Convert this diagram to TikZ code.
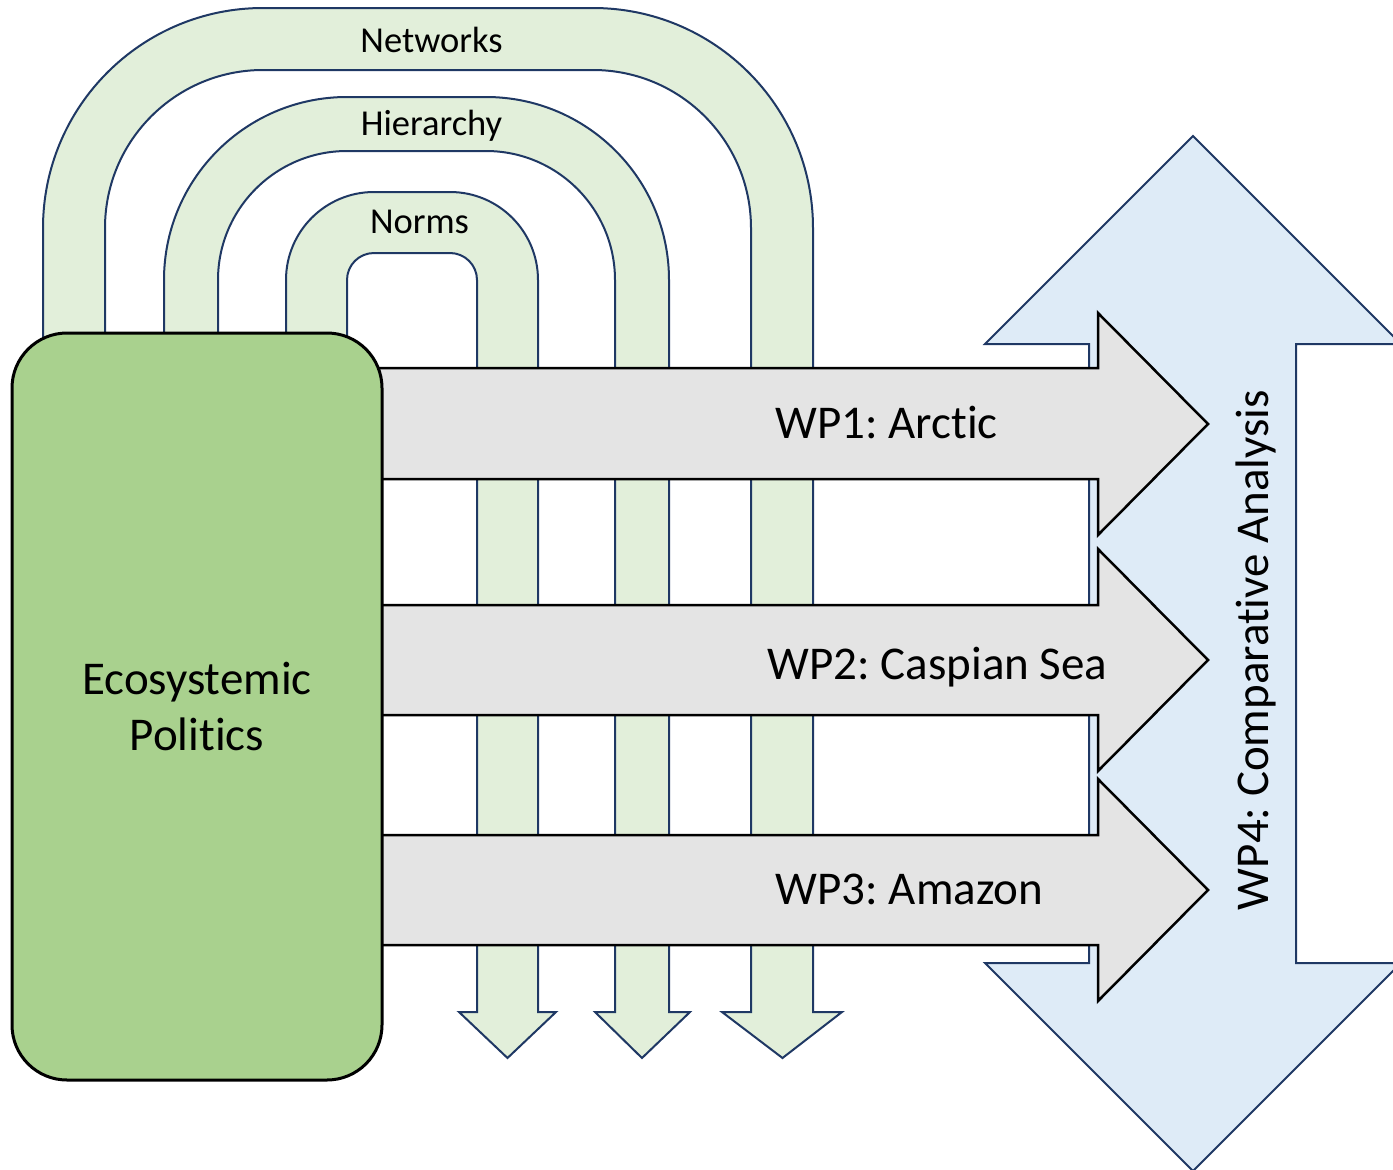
\documentclass[tikz,border=0pt]{standalone}
\usepackage{fontspec}
\setmainfont{Carlito}[Ligatures={NoCommon}]
\definecolor{bandfill}{HTML}{E2EFDA}
\definecolor{navy}{HTML}{1F3864}
\definecolor{boxgreen}{HTML}{A9D18E}
\definecolor{wpgray}{HTML}{E4E4E4}
\definecolor{wpblue}{HTML}{DEEBF7}
\frenchspacing
\begin{document}
\begin{tikzpicture}[x=1pt,y=-1pt,
  band/.style={fill=bandfill,draw=navy,line width=2pt},
  wparrow/.style={fill=wpgray,draw=black,line width=2.5pt},
  wpfour/.style={fill=wpblue,draw=navy,line width=2pt},
  ecobox/.style={fill=boxgreen,draw=black,line width=3pt,rounded corners=55pt,
    minimum width=370pt,minimum height=747pt,inner sep=0pt,align=center,
    font=\fontsize{47}{56}\selectfont},
  bandlabel/.style={anchor=base,inner sep=0pt,font=\fontsize{36.5}{44}\selectfont},
  wplabel/.style={anchor=base,inner sep=0pt,font=\fontsize{47}{56}\selectfont}]
\useasboundingbox (0,0) rectangle (1393,1170);
\clip (0,0) rectangle (1393,1170);
% WP4 double arrow
\draw[wpfour] (1193,136) -- (1401,344) -- (1296,344) -- (1296,963) -- (1401,963)
  -- (1193,1171) -- (985,963) -- (1089,963) -- (1089,344) -- (985,344) -- cycle;
% Networks band
\draw[band] (43,360) -- (43,228) arc[start angle=180,end angle=270,radius=220]
  -- (593,8) arc[start angle=270,end angle=360,radius=220]
  -- (813,1012) -- (842,1012) -- (782.5,1058) -- (722,1012) -- (751,1012)
  -- (751,228) arc[start angle=0,end angle=-90,radius=158]
  -- (263,70) arc[start angle=270,end angle=180,radius=158]
  -- (105,360) -- cycle;
% Hierarchy band
\draw[band] (164,360) -- (164,280) arc[start angle=180,end angle=270,radius=183]
  -- (486,97) arc[start angle=270,end angle=360,radius=183]
  -- (669,1012) -- (690,1012) -- (642,1058) -- (595,1012) -- (615,1012)
  -- (615,280) arc[start angle=0,end angle=-90,radius=129]
  -- (347,151) arc[start angle=270,end angle=180,radius=129]
  -- (218,360) -- cycle;
% Norms band
\draw[band] (286,360) -- (286,280) arc[start angle=180,end angle=270,radius=88]
  -- (450,192) arc[start angle=270,end angle=360,radius=88]
  -- (538,1012) -- (556,1012) -- (507.5,1058) -- (459,1012) -- (477,1012)
  -- (477,280) arc[start angle=0,end angle=-90,radius=27]
  -- (374,253) arc[start angle=270,end angle=180,radius=27]
  -- (347,360) -- cycle;
% WP arrows
\draw[wparrow] (360,368) -- (1098,368) -- (1098,313) -- (1208,424) -- (1098,535) -- (1098,479) -- (360,479) -- cycle;
\draw[wparrow] (360,605) -- (1098,605) -- (1098,549) -- (1208,660) -- (1098,771) -- (1098,715) -- (360,715) -- cycle;
\draw[wparrow] (360,835) -- (1098,835) -- (1098,779) -- (1208,890) -- (1098,1001) -- (1098,945) -- (360,945) -- cycle;
% Ecosystemic Politics box
\node[ecobox] (eco) at (197,706.5) {Ecosystemic\\Politics};
% labels
\node[bandlabel] (networks) at (431.5,52) {Networks};
\node[bandlabel] (hierarchy) at (431.5,135) {Hierarchy};
\node[bandlabel] (norms) at (419.5,233) {Norms};
\node[wplabel] (wp1) at (886.5,438) {WP1: Arctic};
\node[wplabel] (wp2) at (937.5,679) {WP2: Caspian Sea};
\node[wplabel] (wp3) at (909.5,904) {WP3: Amazon};
\node[wplabel,rotate=90] (wp4) at (1268,650) {WP4: Comparative Analysis};
\end{tikzpicture}
\end{document}
